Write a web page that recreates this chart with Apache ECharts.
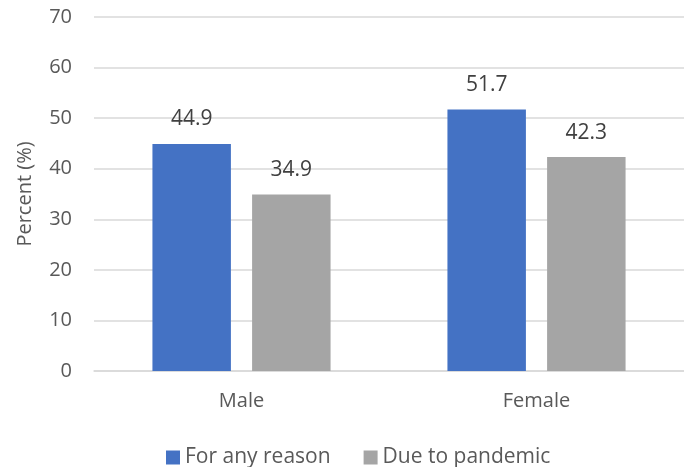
<!DOCTYPE html>
<html>
<head>
<meta charset="utf-8">
<script src="https://cdn.jsdelivr.net/npm/echarts@6/dist/echarts.min.js"></script>
<style>
html,body{margin:0;padding:0;background:#fff;overflow:hidden;}
#chart{width:684px;height:467px;}
</style>
</head>
<body>
<div id="chart"></div>
<script>
var categories = ['Male', 'Female'];
var seriesNames = ['For any reason', 'Due to pandemic'];
var anyReason = [44.9, 51.7];
var dueToPandemic = [34.9, 42.3];
var yTicks = [0, 10, 20, 30, 40, 50, 60, 70];

var FONT = '"Open Sans", sans-serif';
var chart = echarts.init(document.getElementById('chart'), null, {renderer: 'canvas'});
chart.setOption({
  animation: false,
  backgroundColor: '#ffffff',
  textStyle: {fontFamily: FONT},
  grid: {left: 94, width: 596, top: 17, bottom: 96, containLabel: false},
  legend: {
    data: seriesNames,
    left: 161,
    top: 442,
    icon: 'rect',
    itemWidth: 14,
    itemHeight: 14,
    itemGap: 33,
    textStyle: {fontFamily: FONT, fontSize: 21, color: '#595959'}
  },
  xAxis: {
    type: 'category',
    data: categories,
    axisLine: {lineStyle: {color: '#d9d9d9', width: 1.5}},
    axisTick: {show: false},
    axisLabel: {fontFamily: FONT, fontSize: 20, color: '#595959', margin: 20}
  },
  yAxis: {
    type: 'value',
    min: yTicks[0],
    max: yTicks[yTicks.length - 1],
    interval: 10,
    name: 'Percent (%)',
    nameLocation: 'middle',
    nameGap: 59,
    nameTextStyle: {fontFamily: FONT, fontSize: 20, color: '#595959'},
    axisLine: {show: false},
    axisTick: {show: false},
    axisLabel: {fontFamily: FONT, fontSize: 20, color: '#595959', margin: 22},
    splitLine: {lineStyle: {color: '#d9d9d9', width: 1.5}}
  },
  series: [
    {
      name: seriesNames[0],
      type: 'bar',
      data: anyReason,
      barWidth: '26.6%',
      barGap: '27%',
      itemStyle: {color: '#4472C4'},
      label: {show: true, position: 'top', distance: 14, fontFamily: FONT, fontSize: 21, color: '#404040'}
    },
    {
      name: seriesNames[1],
      type: 'bar',
      data: dueToPandemic,
      barWidth: '26.6%',
      barGap: '27%',
      itemStyle: {color: '#A5A5A5'},
      label: {show: true, position: 'top', distance: 14, fontFamily: FONT, fontSize: 21, color: '#404040'}
    }
  ]
});
</script>
</body>
</html>
